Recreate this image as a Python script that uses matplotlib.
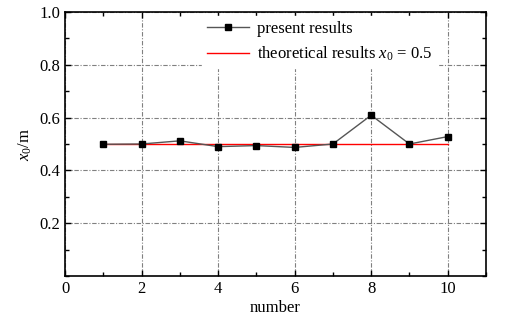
import matplotlib
matplotlib.use("Agg")
from matplotlib import pyplot as plt
from matplotlib.ticker import MultipleLocator

plt.rcParams['font.family'] = ['Liberation Serif', 'DejaVu Serif']
plt.rcParams['mathtext.fontset'] = 'custom'
plt.rcParams['mathtext.rm'] = 'Liberation Serif'
plt.rcParams['mathtext.it'] = 'Liberation Serif:italic'

# Data
number = [1, 2, 3, 4, 5, 6, 7, 8, 9, 10]
present = [0.499, 0.500, 0.512, 0.490, 0.494, 0.487, 0.500, 0.609, 0.500, 0.528]
theory_x = [1, 10]
theory_y = [0.5, 0.5]

fig = plt.figure(figsize=(5.12, 3.29), dpi=100)
ax = fig.add_axes([65/512, 1-276/329, (486-65)/512, (276-12)/329])

ax.plot(number, present, color='#555555', lw=1.0, marker='s', ms=5,
        mfc='black', mec='black', label='present results', zorder=5)
ax.plot(theory_x, theory_y, color='red', lw=1.0,
        label=r'theoretical results $x_0$ = 0.5', zorder=4)

ax.set_xlim(0, 11)
ax.set_ylim(0, 1.0)
ax.xaxis.set_major_locator(MultipleLocator(2))
ax.xaxis.set_minor_locator(MultipleLocator(1))
ax.yaxis.set_major_locator(MultipleLocator(0.2))
ax.yaxis.set_minor_locator(MultipleLocator(0.1))
ax.set_yticks([0.2, 0.4, 0.6, 0.8, 1.0])
ax.set_yticklabels(['0.2', '0.4', '0.6', '0.8', '1.0'])

ax.tick_params(which='both', direction='in', top=True, right=True,
               labelsize=12, width=1.0)
ax.tick_params(which='major', length=4)
ax.tick_params(which='minor', length=3)
for s in ax.spines.values():
    s.set_linewidth(1.2)

ax.grid(True, which='major', color='#808080', ls=(0, (4, 1.5, 1, 1.5)), lw=0.8)
ax.set_axisbelow(True)

ax.set_xlabel('number', fontsize=12, labelpad=2)
ax.set_ylabel(r'$x_0$/m', fontsize=12, labelpad=4)

leg = ax.legend(loc='upper left', bbox_to_anchor=(0.306, 1.018), frameon=True,
                fontsize=12, handlelength=2.5, handletextpad=0.5,
                borderpad=0.3, labelspacing=0.5, fancybox=False)
leg.get_frame().set_edgecolor('white')
leg.get_frame().set_facecolor('white')
leg.get_frame().set_alpha(1.0)

fig.savefig('out.png', dpi=100)
